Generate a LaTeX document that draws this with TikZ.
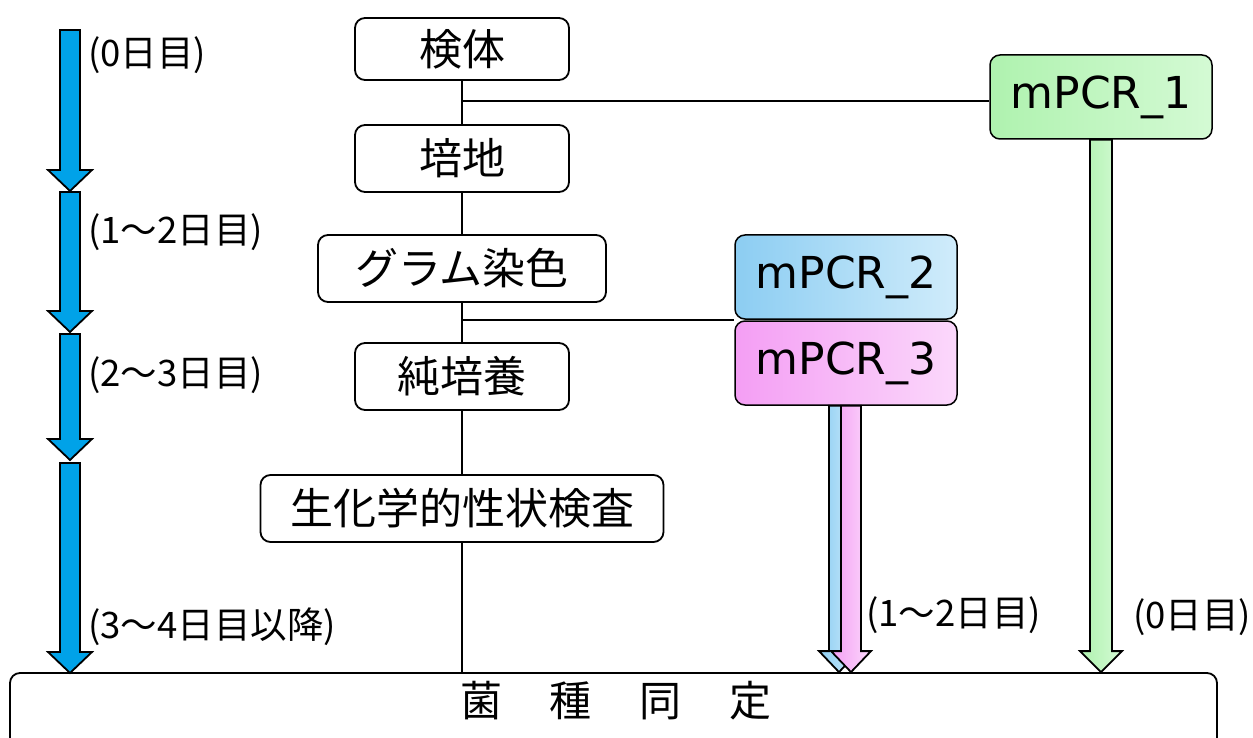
\documentclass[tikz,border=0pt]{standalone}
\usepackage{fontspec}
\setmainfont{Noto Sans CJK JP}
\newfontfamily\latinf{DejaVu Sans}
\usetikzlibrary{calc}
\definecolor{tblue}{RGB}{0,162,232}
\definecolor{gL}{RGB}{175,242,175}
\definecolor{gM}{RGB}{140,236,140}
\definecolor{gR}{RGB}{212,250,212}
\definecolor{bL}{RGB}{140,205,242}
\definecolor{bR}{RGB}{208,236,251}
\definecolor{pL}{RGB}{244,158,244}
\definecolor{pR}{RGB}{251,216,251}
\newcommand\fatarrow[5]{%
  \path[#3] let \p1=(#1), \p2=(#2) in
  (\x2-#4,\y1) -- (\x2+#4,\y1) -- (\x2+#4,\y2+21pt) -- (\x2+#5,\y2+21pt)
  -- (\x2,\y2) -- (\x2-#5,\y2+21pt) -- (\x2-#4,\y2+21pt) -- cycle;}
\tikzset{
  stepbox/.style={draw=black, line width=1.8pt, rounded corners=10pt, fill=white,
    inner sep=0pt, minimum height=67pt, font=\fontsize{43}{43}\selectfont},
  pcrbox/.style={draw=black, line width=1.5pt, rounded corners=10pt, inner sep=0pt,
    minimum width=222pt, minimum height=84pt, font=\latinf\fontsize{44}{44}\selectfont},
  daylabel/.style={anchor=west, inner sep=0pt, font=\fontsize{36.5}{36.5}\selectfont},
  conn/.style={line width=2.8pt, draw=black},
  arrowline/.style={draw=black, line width=1.8pt, line join=miter},
}
\begin{document}
\begin{tikzpicture}[x=1pt,y=-1pt]
\useasboundingbox (0,0) rectangle (1253,738);
\clip (0,0) rectangle (1253,738);
% bottom box
\node[stepbox, minimum width=1207pt, minimum height=126pt] (id) at (613.5,736) {};
\node[inner sep=0pt, font=\fontsize{42}{42}\selectfont] (idtext) at (616,701)
  {菌\hspace{48pt}種\hspace{48pt}同\hspace{48pt}定};
% step boxes
\node[stepbox, minimum width=214pt, minimum height=62pt] (k) at (462,49) {検体};
\node[stepbox, minimum width=214pt] (b) at (462,158.5) {培地};
\node[stepbox, minimum width=288pt] (g) at (462,268.5) {グラム染色};
\node[stepbox, minimum width=214pt] (j) at (462,376.5) {純培養};
\node[stepbox, minimum width=403pt] (s) at (462,508.5) {生化学的性状検査};
% pcr boxes
\node[pcrbox, left color=gL, middle color=gM, right color=gR] (m1) at (1101,97) {mPCR\_1};
\node[pcrbox, left color=bL, right color=bR] (m2) at (846,277) {mPCR\_2};
\node[pcrbox, left color=pL, right color=pR] (m3) at (846,363) {mPCR\_3};
% center line
\draw[conn] (k.south) -- (b.north);
\draw[conn] (b.south) -- (g.north);
\draw[conn] (g.south) -- (j.north);
\draw[conn] (j.south) -- (s.north);
\draw[conn] (s.south) -- (s.south |- id.north);
\coordinate (j1) at (462,101);
\coordinate (j2) at (462,320);
\draw[conn] (j1) -- (j1 -| m1.west);
\draw[conn] (j2) -- (j2 -| m2.west);
% pcr arrows
\coordinate (g1) at (m1.south |- id.north);
\fatarrow{m1.south}{g1}{arrowline, left color=gL, middle color=gM, right color=gR}{11pt}{21pt}
\coordinate (bt) at ($(m3.south)+(-7,0)$);
\coordinate (bb) at (bt |- id.north);
\coordinate (pt) at ($(m3.south)+(5,0)$);
\coordinate (pb) at (pt |- id.north);
\fatarrow{bt}{bb}{arrowline, left color=bL, right color=bR}{10pt}{20pt}
\fatarrow{pt}{pb}{arrowline, left color=pL, right color=pR}{10pt}{20pt}
% timeline arrows
\coordinate (t0) at (70,30);
\coordinate (t1) at (70,191);
\coordinate (t1b) at (70,192);
\coordinate (t2) at (70,332);
\coordinate (t2b) at (70,334);
\coordinate (t3) at (70,460);
\coordinate (t3b) at (70,463);
\coordinate (t4) at (70,673);
\fatarrow{t0}{t1}{arrowline, fill=tblue}{10pt}{22pt}
\fatarrow{t1b}{t2}{arrowline, fill=tblue}{10pt}{22pt}
\fatarrow{t2b}{t3}{arrowline, fill=tblue}{10pt}{22pt}
\fatarrow{t3b}{t4}{arrowline, fill=tblue}{10pt}{22pt}
% labels
\node[daylabel] (l0) at (88,55) {(0日目)};
\node[daylabel] (l1) at (88,232) {(1〜2日目)};
\node[daylabel] (l2) at (88,375) {(2〜3日目)};
\node[daylabel] (l3) at (88,627) {(3〜4日目以降)};
\node[daylabel] (l4) at (866,615) {(1〜2日目)};
\node[daylabel] (l5) at (1133,617) {(0日目)};
\end{tikzpicture}
\end{document}
